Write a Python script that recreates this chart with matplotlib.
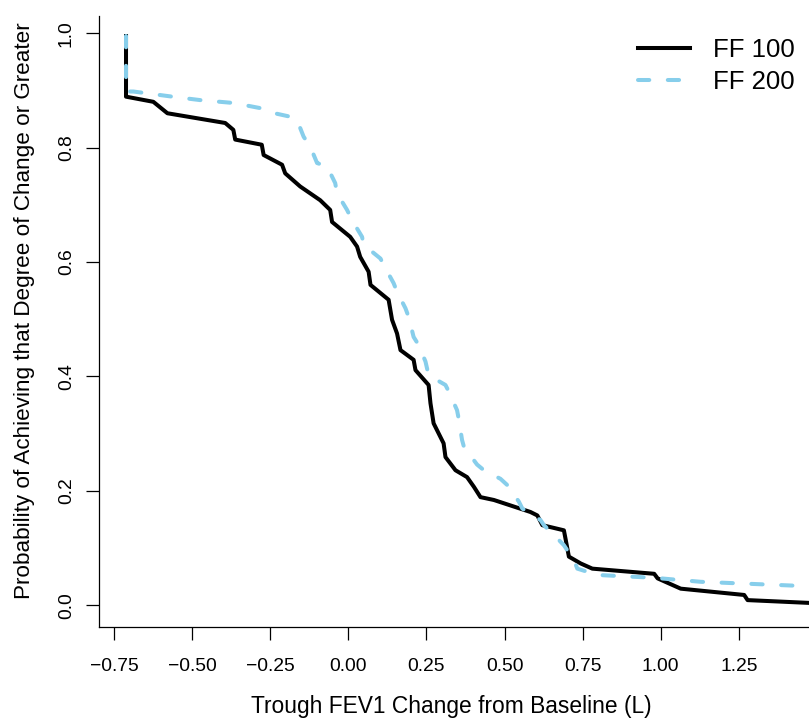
import matplotlib
matplotlib.use("Agg")
import matplotlib.pyplot as plt

# Cumulative probability of reaching at least a given trough FEV1 change
ff100_change = [-0.7115, -0.7115, -0.624, -0.579, -0.394, -0.368, -0.362, -0.277, -0.271,
                -0.212, -0.202, -0.154, -0.090, -0.058, -0.052, 0.006, 0.028, 0.038,
                0.065, 0.071, 0.129, 0.140, 0.156, 0.167, 0.209, 0.215, 0.257, 0.263,
                0.273, 0.305, 0.311, 0.343, 0.380, 0.402, 0.423, 0.466, 0.583, 0.605,
                0.621, 0.690, 0.696, 0.706, 0.744, 0.781, 0.979, 0.990, 1.064, 1.267,
                1.278, 1.48]
ff100_prob = [0.995, 0.889, 0.880, 0.860, 0.843, 0.831, 0.814, 0.805, 0.787,
              0.770, 0.755, 0.732, 0.708, 0.691, 0.670, 0.644, 0.627, 0.609,
              0.583, 0.560, 0.534, 0.499, 0.475, 0.446, 0.429, 0.411, 0.385, 0.353,
              0.318, 0.283, 0.259, 0.236, 0.224, 0.207, 0.189, 0.184, 0.163, 0.157,
              0.140, 0.131, 0.114, 0.085, 0.073, 0.064, 0.055, 0.047, 0.029, 0.018,
              0.009, 0.004]

ff200_change = [-0.7115, -0.7115, -0.688, -0.549, -0.474, -0.368, -0.282, -0.261, -0.186,
                -0.164, -0.143, -0.122, -0.100, -0.068, -0.042, -0.036, -0.004, 0.012,
                0.044, 0.049, 0.103, 0.113, 0.145, 0.156, 0.183, 0.193, 0.209, 0.225,
                0.247, 0.257, 0.311, 0.322, 0.348, 0.354, 0.364, 0.370, 0.412, 0.434,
                0.487, 0.509, 0.546, 0.557, 0.615, 0.626, 0.674, 0.690, 0.701, 0.722,
                0.733, 0.797, 0.979, 1.128, 1.440]
ff200_prob = [0.995, 0.898, 0.898, 0.888, 0.883, 0.878, 0.869, 0.863, 0.854,
              0.848, 0.819, 0.802, 0.773, 0.767, 0.738, 0.720, 0.691, 0.673,
              0.644, 0.630, 0.606, 0.595, 0.563, 0.548, 0.519, 0.504, 0.469, 0.455,
              0.426, 0.402, 0.385, 0.373, 0.341, 0.324, 0.289, 0.277, 0.246, 0.236,
              0.221, 0.210, 0.181, 0.169, 0.149, 0.140, 0.114, 0.105, 0.096, 0.079,
              0.064, 0.053, 0.048, 0.041, 0.034]

x_ticks = [-0.75, -0.50, -0.25, 0.00, 0.25, 0.50, 0.75, 1.00, 1.25]
x_tick_labels = ["\u22120.75", "\u22120.50", "\u22120.25", "0.00", "0.25", "0.50", "0.75", "1.00", "1.25"]
y_ticks = [0.0, 0.2, 0.4, 0.6, 0.8, 1.0]
y_tick_labels = ["0.0", "0.2", "0.4", "0.6", "0.8", "1.0"]

plt.rcParams["font.family"] = ["Liberation Sans", "DejaVu Sans"]

fig = plt.figure(figsize=(8.09, 7.19), dpi=100)
ax = fig.add_axes([99.3 / 809, (719 - 627) / 719, 1 - 99.3 / 809, (627 - 16) / 719])

ax.plot(ff100_change, ff100_prob, color="black", lw=2.9, solid_joinstyle="round",
        label="FF 100")
ax.plot(ff200_change, ff200_prob, color="#87CEEB", lw=2.9, dashes=(2.8, 4.6),
        dash_capstyle="round", label="FF 200")

ax.set_xlim(-0.797, 1.4745)
ax.set_ylim(-0.038, 1.03)

ax.set_xticks(x_ticks)
ax.set_xticklabels(x_tick_labels)
ax.set_yticks(y_ticks)
ax.set_yticklabels(y_tick_labels, rotation=90, va="center")

for side in ("top", "right"):
    ax.spines[side].set_visible(False)
for side in ("left", "bottom"):
    ax.spines[side].set_linewidth(0.9)

ax.tick_params(axis="both", direction="out", length=9.5, width=0.9, labelsize=13.9,
               colors="black")
ax.tick_params(axis="x", pad=13)
ax.tick_params(axis="y", pad=8)

ax.set_xlabel("Trough FEV1 Change from Baseline (L)", fontsize=16.4)
ax.set_ylabel("Probability of Achieving that Degree of Change or Greater", fontsize=16.2)
ax.xaxis.set_label_coords(0.4956, -0.111)
ax.yaxis.set_label_coords(-0.0906, 0.517)

ax.legend(loc="upper left", bbox_to_anchor=(0.759, 0.964), frameon=False, fontsize=18.5,
          handlelength=2.02, handletextpad=0.9, labelspacing=0.32, borderpad=0,
          borderaxespad=0)

fig.savefig("out.png", dpi=100)
